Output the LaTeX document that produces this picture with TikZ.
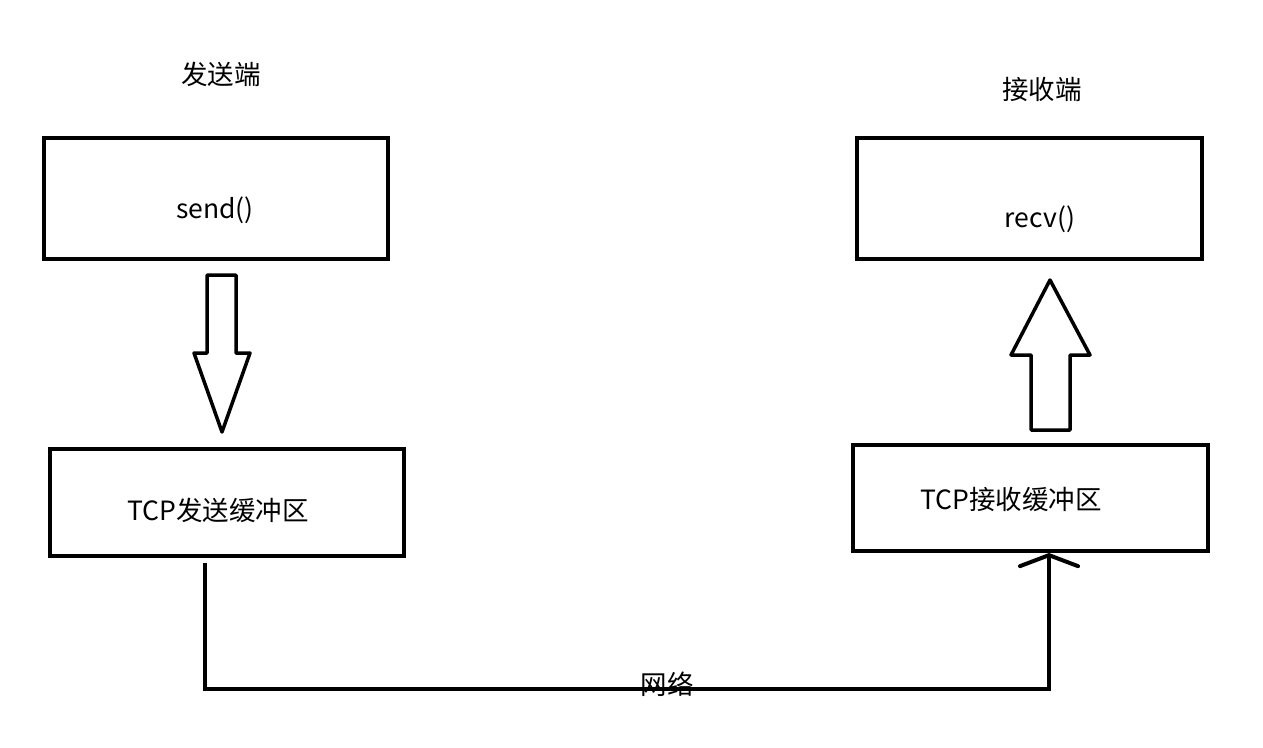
\documentclass[tikz,border=0pt]{standalone}
\usepackage{fontspec}
\newfontfamily\cjk{Noto Sans CJK SC}
\usetikzlibrary{arrows.meta}
\begin{document}
\begin{tikzpicture}[x=1pt,y=-1pt,
  box/.style={draw,line width=4pt,minimum width=#1,inner sep=0pt},
  lbl/.style={font=\cjk\fontsize{26.5}{31}\selectfont,inner sep=0pt},
  blockarrow/.style={draw,line width=3.5pt,line join=round,fill=white},
  link/.style={line width=4pt}]
\useasboundingbox (0,0) rectangle (1263,747);
\node[box=344pt,minimum height=121pt] (send) at (216,198.5) {};
\node[box=345pt,minimum height=121pt] (recv) at (1029.5,198.5) {};
\node[box=354pt,minimum height=107pt] (sbuf) at (227,502.5) {};
\node[box=355pt,minimum height=106pt] (rbuf) at (1030.5,498) {};
\node[lbl] (t1) at (221,74) {发送端};
\node[lbl] (t2) at (1042,89) {接收端};
\node[lbl] (t3) at (215,210) {send()};
\node[lbl] (t4) at (1040,219) {recv()};
\node[lbl] (t5) at (218,510) {TCP发送缓冲区};
\node[lbl] (t6) at (1011,499) {TCP接收缓冲区};
% down block arrow
\draw[blockarrow] (207,275) -- (236,275) -- (236,353) -- (250,353) -- (222,432) -- (194,353) -- (207,353) -- cycle;
% up block arrow
\draw[blockarrow] (1050,280) -- (1090,355) -- (1070,355) -- (1070,430) -- (1031,430) -- (1031,355) -- (1011,355) -- cycle;
% network link
\coordinate (a) at (205,563);
\coordinate (b) at (205,689);
\coordinate (c) at (1049,689);
\coordinate (d) at (1049,553);
\draw[link,-{Straight Barb[length=11pt,width=58pt,line cap=round]}] (a) -- (b) -- (c) -- (d);
\node[lbl] (net) at (667,684) {网络};
\end{tikzpicture}
\end{document}
